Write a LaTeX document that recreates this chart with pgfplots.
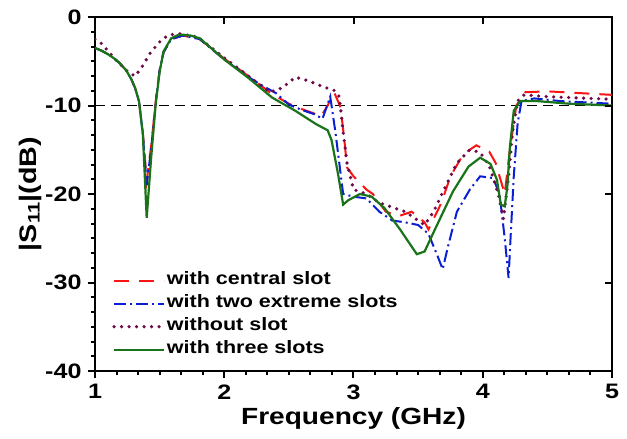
\documentclass[border=0pt]{standalone}
\usepackage{fontspec}
\setmainfont{Liberation Sans}[FakeStretch=1.2]
\usepackage{pgfplots}
\pgfplotsset{compat=1.18}
\definecolor{cred}{RGB}{250,20,20}
\definecolor{cblue}{RGB}{10,30,210}
\definecolor{cpurp}{RGB}{110,10,75}
\definecolor{cgreen}{RGB}{25,115,25}
\begin{document}
\begin{tikzpicture}[font=\bfseries]
\path[use as bounding box] (-95bp,-68bp) rectangle (532bp,371bp);
\begin{axis}[
 at={(0,0)}, anchor=south west,
 width=517bp, height=354bp, scale only axis,
 xmin=1,xmax=5,ymin=-40,ymax=0,
 axis line style={line width=2.5bp},
 xtick={1,2,3,4,5}, ytick={-40,-30,-20,-10,0},
 xtick pos=left, ytick pos=left,
 minor tick num=5,
 tick align=outside,
 major tick length=7bp, minor tick length=4bp,
 every tick/.style={black, line width=2bp},
 tick label style={font=\fontsize{21}{24}\selectfont\bfseries},
 xticklabel style={yshift=-3bp},
 yticklabel style={xshift=-3bp},
 /pgf/number format/assume math mode=true,
 xlabel={Frequency (GHz)}, ylabel={|S\textsubscript{11}|(dB)},
 xlabel style={font=\fontsize{23.5}{26}\selectfont\bfseries, at={(0.5,0)}, anchor=center, yshift=-47bp},
 ylabel style={font=\fontsize{24}{26}\selectfont\bfseries, at={(0,0.5)}, anchor=center, yshift=65bp},
 legend style={at={(0.033,0.281)}, anchor=north west, draw=none, fill=none,
   font=\fontsize{18}{20}\selectfont\bfseries, row sep=5bp, inner sep=0pt,
   nodes={inner sep=1bp, text height=12bp, text depth=4bp}},
 legend cell align=left,
 legend image code/.code={\draw[#1] (0bp,0bp) -- (50bp,0bp);},
]
\addplot[black, line width=1.2bp, dash pattern=on 10bp off 6bp, forget plot] coordinates {(1,-10)(5,-10)};
% with central slot
\addplot[cred, line width=2bp, dash pattern=on 15bp off 10bp] coordinates {
(1.0,-3.5)(1.05,-3.8)(1.10,-4.2)(1.15,-4.7)(1.19,-5.2)(1.24,-6.0)(1.28,-7.0)(1.31,-8.0)(1.34,-9.5)(1.37,-13)(1.40,-18.5)(1.435,-14.5)(1.47,-9.5)(1.50,-6.0)(1.53,-4.0)(1.59,-2.5)(1.68,-2.1)(1.81,-2.5)(2.0,-4.7)(2.18,-6.6)(2.37,-8.7)(2.5,-9.8)(2.6,-10.4)(2.75,-11.2)(2.80,-10.0)(2.85,-8.5)(2.90,-10.2)(2.93,-14)(2.95,-17)(3.0,-18)(3.1,-19.5)(3.15,-20)(3.25,-22)(3.35,-22.5)(3.45,-22)(3.55,-23.2)(3.58,-24)(3.68,-21)(3.75,-18)(3.85,-15.5)(3.95,-14.5)(4.05,-15.2)(4.10,-16.5)(4.15,-19)(4.17,-20)(4.21,-15)(4.26,-10)(4.33,-8.5)(4.5,-8.4)(5.0,-8.8)};
\addlegendentry{with central slot}
% with two extreme slots
\addplot[cblue, line width=2bp, dash pattern=on 12bp off 4bp on 2bp off 4bp] coordinates {
(1.0,-3.5)(1.05,-3.8)(1.10,-4.2)(1.15,-4.7)(1.19,-5.2)(1.24,-6.0)(1.28,-7.0)(1.31,-8.0)(1.34,-9.5)(1.37,-13.2)(1.40,-19)(1.435,-14.8)(1.47,-9.6)(1.50,-6.0)(1.53,-4.0)(1.59,-2.5)(1.68,-2.1)(1.81,-2.5)(2.0,-4.8)(2.2,-6.9)(2.3,-7.8)(2.4,-8.6)(2.5,-9.9)(2.6,-10.5)(2.7,-11.0)(2.76,-11.5)(2.82,-9.0)(2.86,-13)(2.92,-20)(3.0,-20.3)(3.1,-20.5)(3.2,-22)(3.3,-23)(3.4,-23.2)(3.5,-23.5)(3.58,-24.5)(3.65,-27)(3.69,-28.5)(3.73,-26)(3.8,-22)(3.9,-19.5)(3.98,-18)(4.08,-18.2)(4.13,-20)(4.17,-25)(4.20,-29.5)(4.215,-25)(4.24,-18)(4.27,-12)(4.30,-9.5)(4.4,-9.2)(4.6,-9.5)(5.0,-9.8)};
\addlegendentry{with two extreme slots}
% without slot
\addplot[cpurp, line width=3.6bp, line cap=round, dash pattern=on 0bp off 7.5bp] coordinates {
(1.0,-2.5)(1.05,-3.0)(1.11,-4.0)(1.17,-5.0)(1.24,-6.0)(1.31,-6.7)(1.37,-5.5)(1.43,-4.0)(1.52,-2.5)(1.58,-2.0)(1.66,-1.9)(1.8,-2.3)(2.0,-4.6)(2.18,-6.6)(2.35,-8.5)(2.45,-8.0)(2.55,-6.8)(2.65,-7.2)(2.75,-7.8)(2.85,-8.3)(2.89,-9.0)(2.92,-13)(2.95,-16.5)(3.0,-19.5)(3.1,-20)(3.2,-21)(3.3,-21.5)(3.4,-22)(3.5,-23)(3.55,-23.5)(3.62,-22)(3.7,-19.5)(3.8,-16.5)(3.9,-15)(3.98,-15.3)(4.05,-16.8)(4.12,-20)(4.16,-22.8)(4.2,-18)(4.23,-13)(4.27,-9.5)(4.32,-8.8)(4.5,-9.0)(5.0,-9.3)};
\addlegendentry{without slot}
% with three slots
\addplot[cgreen, line width=2.2bp] coordinates {
(1.0,-3.5)(1.05,-3.8)(1.10,-4.2)(1.15,-4.7)(1.19,-5.2)(1.24,-6.0)(1.28,-7.0)(1.31,-8.0)(1.34,-9.5)(1.37,-13.2)(1.40,-22.7)(1.435,-15.8)(1.47,-9.8)(1.50,-6.2)(1.53,-3.9)(1.59,-2.4)(1.64,-2.05)(1.68,-2.0)(1.74,-2.1)(1.81,-2.4)(2.0,-4.8)(2.18,-6.8)(2.37,-9.1)(2.55,-10.6)(2.71,-12.1)(2.80,-12.8)(2.83,-13.9)(2.88,-17.7)(2.92,-21.2)(2.96,-20.7)(3.05,-20.0)(3.14,-20.3)(3.24,-21.6)(3.36,-24.0)(3.49,-26.8)(3.55,-26.5)(3.64,-23.7)(3.77,-19.7)(3.89,-16.9)(3.98,-15.9)(4.06,-16.6)(4.11,-18.4)(4.14,-21.2)(4.17,-21.4)(4.19,-19.2)(4.21,-14.7)(4.24,-10.6)(4.29,-9.5)(4.42,-9.5)(4.67,-9.8)(5.0,-10.0)};
\addlegendentry{with three slots}
\end{axis}
\begin{axis}[
 at={(0,0)}, anchor=south west,
 width=517bp, height=354bp, scale only axis,
 xmin=1,xmax=5,ymin=-40,ymax=0,
 axis line style={draw=none},
 xtick={1,2,3,4,5}, ytick={-40,-30,-20,-10,0},
 xtick pos=right, ytick pos=right,
 tick align=inside, major tick length=7bp,
 every tick/.style={black, line width=2bp},
 xticklabels={}, yticklabels={},
]
\end{axis}
\end{tikzpicture}
\end{document}
